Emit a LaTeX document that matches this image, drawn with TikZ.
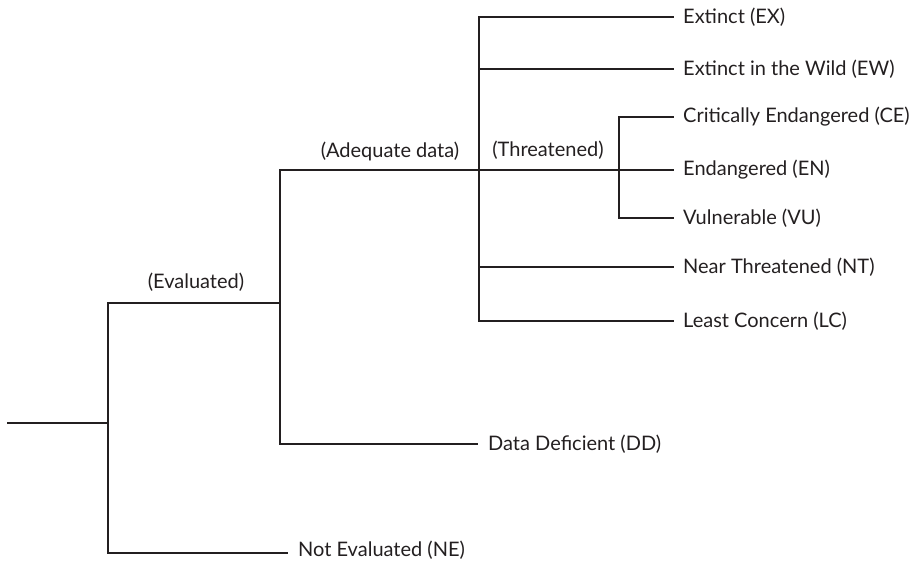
\documentclass[tikz,border=0pt]{standalone}
\usepackage{fontspec}
\setmainfont{Lato}
\definecolor{ink}{HTML}{231F20}
\begin{document}
\begin{tikzpicture}[x=1pt,y=-1pt,
  edge/.style={draw=ink,line width=2.3pt,line cap=rect},
  leaf/.style={anchor=west,inner sep=0pt,text=ink,font=\fontsize{20}{22}\selectfont},
  lbl/.style={inner sep=0pt,text=ink,font=\fontsize{20}{22}\selectfont}]
\useasboundingbox (0,0) rectangle (915,562);
% junctions
\coordinate (r0) at (8,423);
\coordinate (j1) at (108,423);
\coordinate (j1t) at (108,303);
\coordinate (j1b) at (108,553);
\coordinate (j2t) at (280,170);
\coordinate (j2m) at (280,303);
\coordinate (j2b) at (280,444);
\coordinate (j3t) at (479,17);
\coordinate (j3a) at (479,69);
\coordinate (j3m) at (479,170);
\coordinate (j3n) at (479,267);
\coordinate (j3b) at (479,321);
\coordinate (j4t) at (619,117);
\coordinate (j4m) at (619,170);
\coordinate (j4b) at (619,218);
% leaf ends
\coordinate (eNE) at (287,553);
\coordinate (eDD) at (477,444);
\coordinate (eEX) at (673,17);
\coordinate (eEW) at (673,69);
\coordinate (eCE) at (673,117);
\coordinate (eEN) at (673,170);
\coordinate (eVU) at (673,218);
\coordinate (eNT) at (673,267);
\coordinate (eLC) at (673,321);
% labels
\node[leaf] (NE) at (298,550) {Not Evaluated (NE)};
\node[leaf] (DD) at (488,444) {Data Deficient (DD)};
\node[leaf] (EX) at (683,17) {Extinct (EX)};
\node[leaf] (EW) at (683,69) {Extinct in the Wild (EW)};
\node[leaf] (CE) at (683,117) {Critically Endangered (CE)};
\node[leaf] (EN) at (683,170) {Endangered (EN)};
\node[leaf] (VU) at (683,218) {Vulnerable (VU)};
\node[leaf] (NT) at (683,267) {Near Threatened (NT)};
\node[leaf] (LC) at (683,321) {Least Concern (LC)};
\node[lbl] (evl) at (196,282) {(Evaluated)};
\node[lbl] (adq) at (390,151) {(Adequate data)};
\node[lbl] (thr) at (548,150) {(Threatened)};
% edges
\draw[edge] (r0) -- (j1);
\draw[edge] (j1t) -- (j1b);
\draw[edge] (j1t) -- (j2m);
\draw[edge] (j1b) -- (eNE);
\draw[edge] (j2t) -- (j2b);
\draw[edge] (j2b) -- (eDD);
\draw[edge] (j2t) -- (j3m);
\draw[edge] (j3t) -- (j3b);
\draw[edge] (j3t) -- (eEX);
\draw[edge] (j3a) -- (eEW);
\draw[edge] (j3n) -- (eNT);
\draw[edge] (j3b) -- (eLC);
\draw[edge] (j3m) -- (j4m);
\draw[edge] (j4t) -- (j4b);
\draw[edge] (j4t) -- (eCE);
\draw[edge] (j4m) -- (eEN);
\draw[edge] (j4b) -- (eVU);
\end{tikzpicture}
\end{document}
